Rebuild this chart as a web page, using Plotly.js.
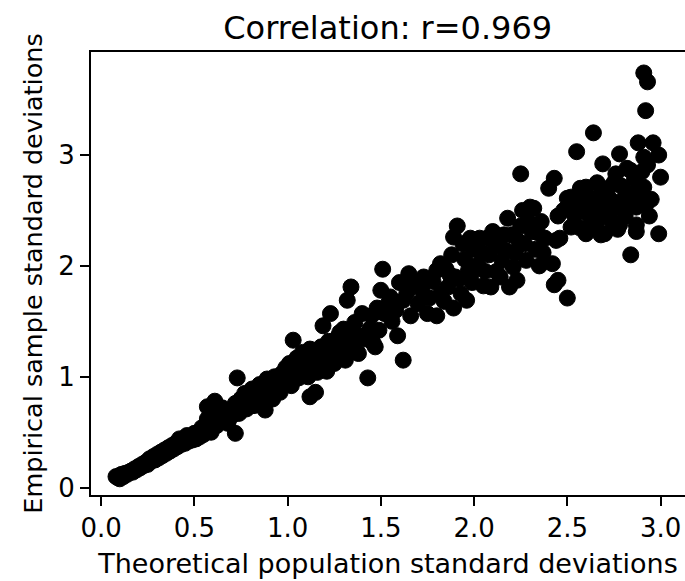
<!DOCTYPE html>
<html>
<head>
<meta charset="utf-8">
<script src="https://cdn.plot.ly/plotly-3.0.1.min.js"></script>
<style>html,body{margin:0;padding:0;background:#fff;}#chart{width:685px;height:581px;}</style>
</head>
<body>
<div id="chart"></div>
<script>
// Theoretical (x) and empirical (y) standard deviations, in segments
var theoA = [0.08,0.09,0.10,0.10,0.11,0.12,0.13,0.14,0.15,0.16,
             0.17,0.18,0.19,0.20,0.21,0.22,0.23,0.24,0.25,0.26,
             0.27,0.28,0.29,0.30,0.31,0.32,0.33,0.34,0.35,0.36,
             0.37,0.38,0.39,0.40,0.41,0.42,0.43,0.44,0.45,0.46,
             0.47,0.48,0.49,0.50,0.51,0.52,0.53,0.54,0.55,0.56,
             0.57,0.57,0.58,0.59,0.60,0.61,0.62,0.63,0.64,0.65,
             0.66,0.67,0.68,0.69,0.70,0.71,0.72,0.72,0.73,0.74,
             0.75,0.76,0.77,0.78,0.79,0.80,0.81,0.82,0.83,0.84,
             0.85,0.86,0.87,0.88,0.89,0.90,0.91,0.92,0.93,0.94,
             0.95,0.96,0.97,0.98,0.99,1.00,1.00];
var empA  = [0.10,0.09,0.11,0.08,0.12,0.10,0.13,0.12,0.14,0.15,
             0.14,0.17,0.16,0.19,0.18,0.21,0.20,0.23,0.21,0.26,
             0.24,0.28,0.25,0.30,0.27,0.32,0.29,0.34,0.31,0.36,
             0.33,0.38,0.35,0.40,0.37,0.44,0.39,0.43,0.40,0.47,
             0.42,0.46,0.43,0.49,0.44,0.48,0.46,0.54,0.48,0.53,
             0.73,0.62,0.57,0.50,0.66,0.78,0.56,0.69,0.60,0.72,
             0.61,0.66,0.58,0.63,0.70,0.66,0.49,0.76,0.99,0.67,
             0.80,0.72,0.85,0.71,0.81,0.76,0.89,0.74,0.86,0.80,
             0.93,0.78,0.91,0.70,0.98,0.84,0.94,0.80,1.00,0.88,
             0.97,0.86,1.03,0.92,1.08,0.96,1.06];

var theoB = [1.01,1.02,1.03,1.04,1.05,1.06,1.07,1.08,1.09,1.10,
             1.11,1.12,1.12,1.13,1.15,1.15,1.16,1.17,1.18,1.19,
             1.20,1.21,1.22,1.23,1.24,1.25,1.26,1.27,1.28,1.29,
             1.30,1.31,1.32,1.33,1.34,1.35,1.36,1.37,1.38,1.40,
             1.41,1.43,1.44,1.45,1.46,1.47,1.48,1.49,1.50,1.51,1.52];
var empB  = [1.12,0.92,1.33,1.03,1.17,0.99,1.10,1.22,1.05,1.15,
             1.00,0.82,1.25,1.09,0.86,1.19,1.04,1.12,1.27,1.46,
             1.15,1.05,1.32,1.57,1.22,1.12,1.17,1.36,1.40,1.24,
             1.43,1.15,1.69,1.31,1.81,1.27,1.49,1.38,1.21,1.57,
             1.34,0.99,1.43,1.55,1.30,1.27,1.62,1.42,1.78,1.97,1.57];

var theoC = [1.54,1.55,1.56,1.58,1.59,1.60,1.62,1.62,1.64,1.65,
             1.66,1.68,1.70,1.72,1.73,1.75,1.76,1.78,1.80,1.80,
             1.82,1.82,1.84,1.85,1.86,1.88,1.89,1.89,1.90,1.91,
             1.93,1.95,1.96,1.97,1.98,1.99,2.00,2.00,1.94,1.92,1.87];
var empC  = [1.66,1.72,1.50,1.60,1.37,1.85,1.15,1.69,1.76,1.93,
             1.55,1.83,1.66,1.78,1.90,1.57,1.71,1.86,1.55,1.96,
             2.02,1.75,1.68,1.97,1.81,2.10,1.62,2.26,1.90,2.36,
             1.75,2.06,1.69,1.96,2.25,1.85,2.15,1.96,2.20,1.88,1.92];

var theoD = [2.02,2.03,2.05,2.07,2.08,2.09,2.10,2.12,2.13,2.15,
             2.17,2.18,2.19,2.20,2.21,2.22,2.23,2.25,2.25,2.26,
             2.27,2.28,2.30,2.31,2.32,2.33,2.35,2.36,2.38,2.40,
             2.42,2.43,2.43,2.44,2.45,2.45,2.46,2.48,2.50,2.50,
             2.50,2.52,2.52,2.04,2.11,2.16,2.24,2.29,2.34,2.37,
             2.14,2.06];
var empD  = [2.01,2.25,1.82,2.25,2.10,1.81,2.31,1.95,2.18,2.05,
             2.14,2.43,1.81,2.28,1.99,2.12,1.87,2.83,2.36,2.50,
             2.20,2.05,2.53,2.31,2.52,2.15,2.00,2.40,2.25,2.70,
             2.02,1.83,2.79,2.23,1.87,2.45,2.25,2.50,1.71,2.61,
             2.53,2.35,2.62,2.12,2.20,2.28,2.22,2.40,2.30,2.12,
             1.90,1.95];

var theoE = [2.55,2.57,2.57,2.57,2.60,2.60,2.62,2.64,2.64,2.66,
             2.68,2.69,2.69,2.70,2.72,2.74,2.76,2.77,2.77,2.78,
             2.78,2.80,2.82,2.82,2.84,2.84,2.84,2.87,2.87,2.87,
             2.88,2.89,2.91,2.91,2.93,2.92,2.93,2.91,2.96,2.99,
             3.00,2.99,2.95,2.94,2.58,2.62,2.66,2.70,2.73,2.75,
             2.79,2.81,2.86,2.88,2.90,2.92,2.62,2.66,2.72,2.54,2.56];
var empE  = [3.03,2.50,2.70,2.34,2.29,2.71,2.45,2.61,3.20,2.50,
             2.28,2.92,2.65,2.29,2.70,2.40,2.83,2.33,2.53,2.37,
             3.01,2.60,2.88,2.55,2.10,2.65,2.86,2.31,2.37,2.53,
             3.11,2.70,2.98,3.74,3.66,3.40,2.91,2.71,3.11,3.00,
             2.80,2.29,2.60,2.45,2.62,2.55,2.75,2.55,2.60,2.75,
             2.72,2.45,2.78,2.62,2.85,2.55,2.35,2.40,2.45,2.45,2.60];

var xTickVals = [0, 0.5, 1.0, 1.5, 2.0, 2.5, 3.0];
var xTickText = ['0.0', '0.5', '1.0', '1.5', '2.0', '2.5', '3.0'];
var yTickVals = [0, 1, 2, 3];
var yTickText = ['0', '1', '2', '3'];
var titleText = 'Correlation: r=0.969';
var xTitle = 'Theoretical population standard deviations';
var yTitle = 'Empirical sample standard deviations';

var xs = theoA.concat(theoB, theoC, theoD, theoE);
var ys = empA.concat(empB, empC, empD, empE);

var font = 'DejaVu Sans, sans-serif';
var trace = {
  x: xs, y: ys, type: 'scatter', mode: 'markers',
  marker: {color: '#000000', size: 16, line: {width: 1, color: '#000000'}},
  hoverinfo: 'skip', cliponaxis: true
};
var axisCommon = {
  showgrid: false, zeroline: false, showline: true, linecolor: '#000', linewidth: 2,
  ticks: 'outside', ticklen: 9, tickwidth: 2, tickcolor: '#000',
  tickfont: {family: font, size: 26, color: '#000'}, automargin: false
};
var layout = {
  width: 685, height: 581,
  margin: {l: 91, r: 0, t: 52, b: 86, pad: 0},
  paper_bgcolor: '#fff', plot_bgcolor: '#fff',
  showlegend: false,
  title: {text: titleText, font: {family: font, size: 32, color: '#000'},
          xref: 'container', yref: 'container',
          x: 0.566, xanchor: 'center', y: 0.952, yanchor: 'middle'},
  xaxis: Object.assign({}, axisCommon, {
    mirror: true,
    range: [-0.054, 3.131], tickmode: 'array', tickvals: xTickVals, ticktext: xTickText,
    title: {text: xTitle, font: {family: font, size: 27, color: '#000'}, standoff: 12}
  }),
  yaxis: Object.assign({}, axisCommon, {
    mirror: false,
    range: [-0.066, 3.929], tickmode: 'array', tickvals: yTickVals, ticktext: yTickText,
    title: {text: yTitle, font: {family: font, size: 25.5, color: '#000'}, standoff: 8}
  })
};
Plotly.newPlot('chart', [trace], layout, {displayModeBar: false, staticPlot: true});
</script>
</body>
</html>
